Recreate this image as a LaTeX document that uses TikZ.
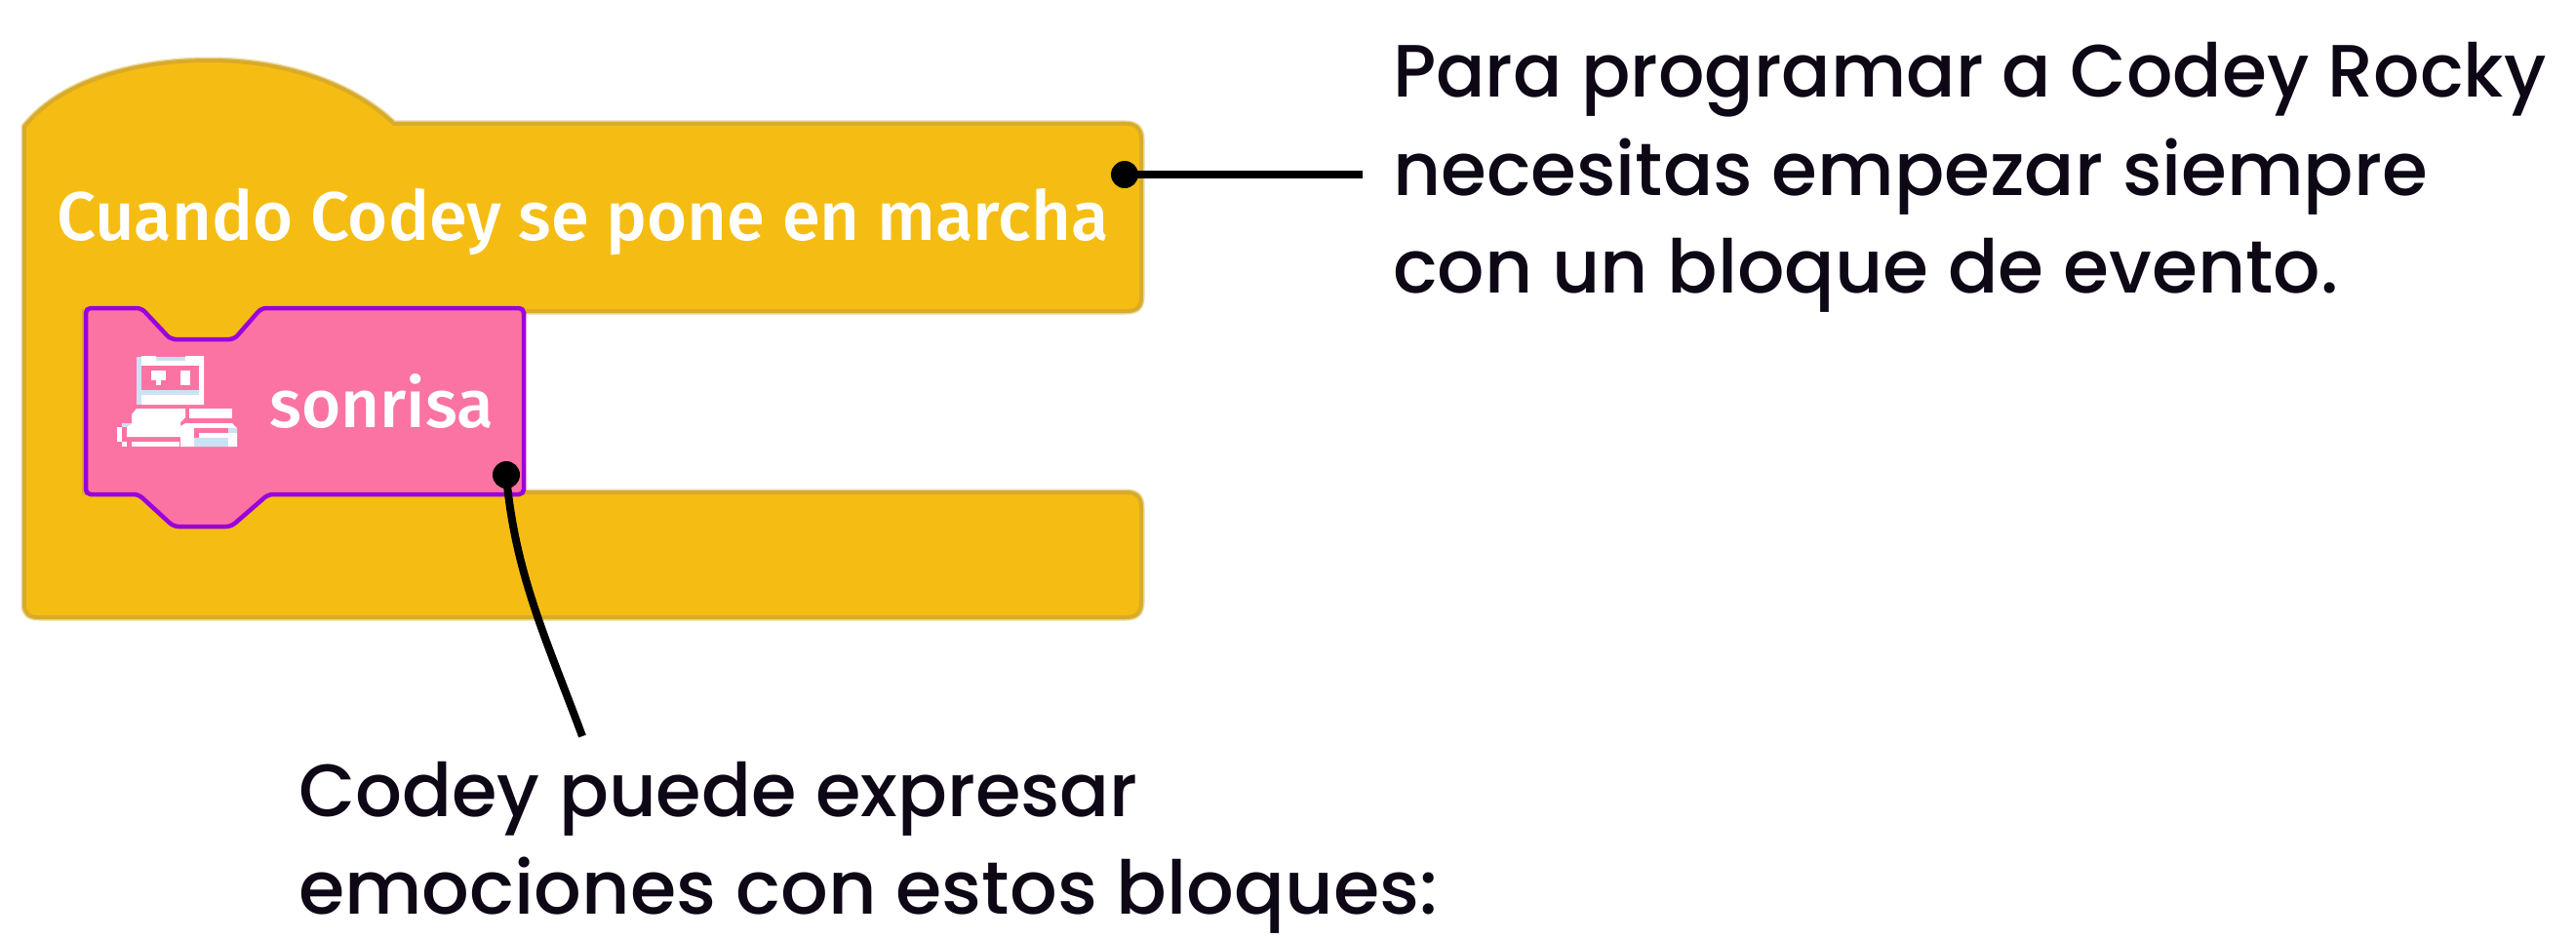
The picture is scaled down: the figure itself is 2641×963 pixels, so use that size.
\documentclass[tikz,border=0pt]{standalone}
\usepackage{fontspec}
\usepackage{graphicx}
\setmainfont{Poppins Medium}
\newfontfamily\blockfont{Fira Sans Medium}
\definecolor{blockY}{HTML}{F5BD14}
\definecolor{edgeY}{HTML}{D9AB28}
\definecolor{paleY}{HTML}{E8D79E}
\definecolor{pinkB}{HTML}{FB73A3}
\definecolor{purpB}{HTML}{9A00DC}
\definecolor{iceB}{HTML}{CBE2F5}
\definecolor{inkT}{HTML}{0D0716}
\tikzset{
  callout/.style={inner sep=0pt,anchor=base west,text=inkT,font=\fontsize{76}{90}\selectfont},
  blocktext/.style={inner sep=0pt,anchor=base west,text=white},
  dot/.style={circle,fill=black,inner sep=0pt,minimum size=28pt},
  leader/.style={draw=black,line width=8pt},
  hatblock/.style={fill=blockY,draw=edgeY,line width=4pt},
  hatglow/.style={draw=paleY,line width=7pt},
  stackblock/.style={fill=pinkB,draw=purpB,line width=4.5pt,rounded corners=5pt},
  iconw/.style={fill=white,draw=none},
  iconi/.style={fill=iceB,draw=none},
  iconp/.style={fill=pinkB,draw=none}
}
\def\hatoutline{
  (25,620) -- (25,130)
  .. controls (58,88) and (128,62) .. (215,62)
  .. controls (290,62) and (360,85) .. (404,127)
  -- (1155,127) .. controls (1165,127) and (1170,133) .. (1170,142)
  -- (1170,305) .. controls (1170,315) and (1165,319) .. (1155,319)
  -- (270,319) -- (240,350) -- (175,350) -- (145,319)
  -- (86,319) -- (86,505)
  -- (1155,505) .. controls (1165,505) and (1170,510) .. (1170,520)
  -- (1170,618) .. controls (1170,628) and (1165,633) .. (1155,633)
  -- (39,633) .. controls (29,633) and (25,628) .. (25,620) -- cycle}
\begin{document}
\begin{tikzpicture}[x=1pt,y=-1pt]
\useasboundingbox (0,0) rectangle (2641,963);
% hat block
\path[hatglow] \hatoutline;
\path[hatblock] \hatoutline;
% stack block
\draw[stackblock]
  (88,316) -- (145,316) -- (175,348) -- (240,348) -- (268,316)
  -- (537,316) -- (537,507)
  -- (275,507) -- (237,540) -- (178,540) -- (142,507)
  -- (88,507) -- cycle;
% icon: head
\fill[iconi] (140,366) rectangle (209,415);
\fill[iconw] (145,365) -- (160,365) -- (160,370) -- (190,370) -- (190,365) -- (209,365) -- (209,415) -- (145,415) -- cycle;
\fill[iconp] (145,375) rectangle (204,400);
\fill[iconi] (145,400) rectangle (204,405);
\fill[iconw] (155,380) rectangle (170,390);
\fill[iconw] (160,390) rectangle (165,395);
\fill[iconw] (185,380) rectangle (195,395);
% icon: left tread
\fill[iconi] (125,434) rectangle (135,438);
\fill[iconw] (140,419) -- (190,419) -- (190,428) -- (185,433) -- (185,448) -- (130,448) -- (130,438) -- (135,435) -- (135,425) -- cycle;
\fill[iconw] (120,438) rectangle (125,453);
\fill[iconw] (125,453) rectangle (130,458);
\fill[iconw] (135,453) rectangle (184,458);
% icon: right tread
\fill[iconw] (194,419) rectangle (238,429);
\fill[iconw] (185,437) -- (190,434) -- (238,434) -- (243,439) -- (243,458) -- (185,458) -- cycle;
\fill[iconp] (199,439) rectangle (238,444);
\fill[iconp] (199,444) rectangle (204,449);
\fill[iconi] (234,439) rectangle (243,444);
\fill[iconi] (199,449) rectangle (234,458);
% texts in blocks
\node[blocktext,font=\blockfont\fontsize{70.5}{80}\selectfont] (hatlabel) at (58,246) {Cuando Codey se pone en marcha};
\node[blocktext,font=\blockfont\fontsize{69}{80}\selectfont] (stacklabel) at (276,438) {sonrisa};
% callouts
\node[callout] (t1) at (1428,100) {\scalebox{0.979}[1]{Para programar a Codey Rocky}};
\node[callout] (t2) at (1428,200) {\scalebox{0.997}[1]{necesitas empezar siempre}};
\node[callout] (t3) at (1428,300) {con un bloque de evento.};
\node[callout] (t4) at (306,837) {\scalebox{0.99}[1]{Codey puede expresar}};
\node[callout] (t5) at (306,937) {\scalebox{1.007}[1]{emociones con estos bloques:}};
% leaders
\node[dot] (d1) at (1153,179) {};
\node[dot] (d2) at (519,487) {};
\coordinate (e1) at (1397,179);
\coordinate (e2) at (597,755);
\draw[leader] (d1.center) -- (e1);
\draw[leader] (d2.center) .. controls (528,590) and (562,660) .. (e2);
\end{tikzpicture}
\end{document}
